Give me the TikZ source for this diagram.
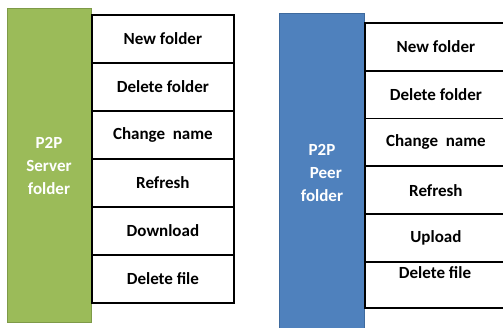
\documentclass[tikz,border=0pt]{standalone}
\usepackage{fontspec}
\setmainfont{Carlito}
\definecolor{ggreen}{HTML}{9BBB59}
\definecolor{ggreenb}{HTML}{7E9A48}
\definecolor{bblue}{HTML}{4F81BD}
\definecolor{bblueb}{HTML}{3E6A9E}
\begin{document}
\begin{tikzpicture}[x=1pt,y=-1pt,
  lbl/.style={font=\bfseries\fontsize{17}{19}\selectfont, text=black, inner sep=0pt},
  side/.style={font=\bfseries\fontsize{17}{23}\selectfont, text=white, align=center, inner sep=0pt},
  rowline/.style={line width=1.8pt, black}]
\useasboundingbox (0,0) rectangle (503,328);
% left panel
\node[draw=ggreenb, fill=ggreen, line width=1.2pt, minimum width=84pt, minimum height=314pt, inner sep=0pt, anchor=north west] (sg) at (7,8) {};
\node[side] (st) at (49,166) {P2P\\Server\\folder};
\foreach \i/\t in {0/New folder,1/Delete folder,2/Change\ \ name,3/Refresh,4/Download,5/Delete file}{
  \node[draw, rowline, minimum width=142pt, minimum height=48pt, inner sep=0pt, anchor=north west] (l\i) at (91,{14+48*\i}) {};
  \node[lbl] (lt\i) at (l\i.center) {\t};
}
% right panel
\begin{scope}
\clip (0,0) rectangle (503,328);
\node[draw=bblueb, fill=bblue, line width=1.2pt, minimum width=85pt, minimum height=320pt, inner sep=0pt, anchor=north west] (pb) at (279,13) {};
\node[side] (pt) at (322,173) {P2P\\\ \ Peer\\folder};
\foreach \i/\t in {0/New folder,1/Delete folder,2/Change\ \ name,3/Refresh,4/Upload}{
  \node[draw, rowline, minimum width=150pt, minimum height=47.8pt, inner sep=0pt, anchor=north west] (r\i) at (364,{22+47.8*\i}) {};
  \node[lbl] (rt\i) at ([xshift=-4pt]r\i.center) {\t};
}
\node[draw, rowline, minimum width=150pt, minimum height=46pt, inner sep=0pt, anchor=north west] (r5) at (364,261) {};
\node[lbl] (rt5) at (435,273) {Delete file};
\end{scope}
\end{tikzpicture}
\end{document}
